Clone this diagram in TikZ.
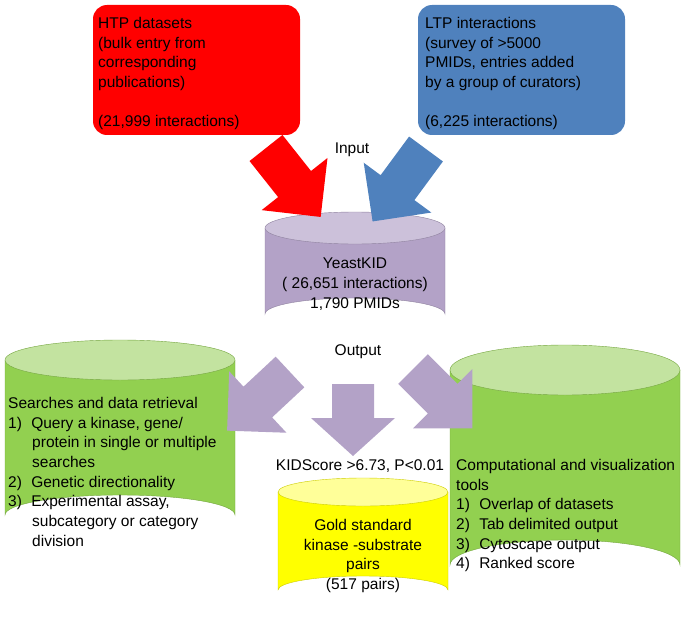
\documentclass[tikz,border=0pt]{standalone}
\usepackage{fontspec}
\setmainfont{Liberation Sans}
\definecolor{cred}{HTML}{FF0000}
\definecolor{cblue}{HTML}{4F81BD}
\definecolor{cpurp}{HTML}{B3A2C7}
\definecolor{cpurpt}{HTML}{CCC1DA}
\definecolor{cgreen}{HTML}{92D050}
\definecolor{cgreent}{HTML}{C3E3A0}
\definecolor{cyel}{HTML}{FFFF00}
\definecolor{cyelt}{HTML}{FFFF99}
\tikzset{
  txt/.style={font=\fontsize{15.5}{19.7}\selectfont, inner sep=0pt},
  box/.style={rounded corners=14pt},
  fat/.pic={\path[pic actions] (0,-#1) -- (\pgfkeysvalueof{/tikz/al}-\pgfkeysvalueof{/tikz/hl},-#1) -- (\pgfkeysvalueof{/tikz/al}-\pgfkeysvalueof{/tikz/hl},-2*#1) -- (\pgfkeysvalueof{/tikz/al},0) -- (\pgfkeysvalueof{/tikz/al}-\pgfkeysvalueof{/tikz/hl},2*#1) -- (\pgfkeysvalueof{/tikz/al}-\pgfkeysvalueof{/tikz/hl},#1) -- (0,#1) -- cycle;},
  al/.initial=90, hl/.initial=40
}
\newcommand{\cyl}[7]{% x1 x2 ytop ybot ry fill topfill
  \fill[#6] (#1,#3) -- (#1,#4) arc[start angle=180,end angle=360,x radius={(#2-#1)/2},y radius=#5] -- (#2,#3) -- cycle;
  \draw[#6!80!black,line width=0.4pt] (#1,#3) -- (#1,#4) arc[start angle=180,end angle=360,x radius={(#2-#1)/2},y radius=#5] -- (#2,#3);
  \filldraw[fill=#7,draw=#6!80!black,line width=0.4pt] ({(#1+#2)/2},#3) ellipse[x radius={(#2-#1)/2},y radius=#5];
}
\begin{document}
\begin{tikzpicture}[x=1pt,y=-1pt]
\useasboundingbox (0,0) rectangle (685,623);
% boxes
\fill[cred,box] (93,5) rectangle (300,135);
\fill[cblue,box] (418,5) rectangle (625,135);
\node[txt,anchor=north west,align=left] (htp) at (98,17) {HTP datasets\\(bulk entry from\\corresponding\\publications)\\[19.7pt](21,999 interactions)};
\node[txt,anchor=north west,align=left] (ltp) at (425,17) {LTP interactions\\(survey of >5000\\PMIDs, entries added\\by a group of curators)\\[19.7pt](6,225 interactions)};
\node[txt] (input) at (352,150) {Input};
% YeastKID
\cyl{265}{445}{228}{314}{16}{cpurp}{cpurpt}
\node[txt,align=center] (kid) at (355,284) {YeastKID\\( 26,651 interactions)\\1,790 PMIDs};
% input arrows
\pic[fill=cred,rotate=-51.6,al=88,hl=42] at (266,148) {fat=21};
\pic[fill=cblue,rotate=-126.4,al=90,hl=42] at (426,149) {fat=21};
\node[txt] (output) at (358,352) {Output};
% left cylinder
\cyl{5}{235}{360}{515}{20}{cgreen}{cgreent}
\node[txt,anchor=north west,align=left] (search) at (8,397) {Searches and data retrieval\\1)\hspace{0.6em}Query a kinase, gene/\\\hspace{1.55em}protein in single or multiple\\\hspace{1.55em}searches\\2)\hspace{0.6em}Genetic directionality\\3)\hspace{0.6em}Experimental assay,\\\hspace{1.55em}subcategory or category\\\hspace{1.55em}division};
% right cylinder
\cyl{450}{680}{370}{565}{25}{cgreen}{cgreent}
\node[txt,anchor=north west,align=left] (comp) at (456,459) {Computational and visualization\\tools\\1)\hspace{0.6em}Overlap of datasets\\2)\hspace{0.6em}Tab delimited output\\3)\hspace{0.6em}Cytoscape output\\4)\hspace{0.6em}Ranked score};
% output arrows
\pic[fill=cpurp,rotate=-137,al=86,hl=42] at (290,372) {fat=21};
\pic[fill=cpurp,rotate=-90,al=72,hl=38] at (353,384) {fat=21};
\pic[fill=cpurp,rotate=-45,al=84,hl=42] at (413,369) {fat=21};
% yellow cylinder
\node[txt] (kids) at (360,466) {KIDScore >6.73, P<0.01};
\cyl{278}{448}{492}{590}{14}{cyel}{cyelt}
\node[txt,align=center] (gold) at (363,556) {Gold standard\\kinase -substrate\\pairs\\(517 pairs)};
\end{tikzpicture}
\end{document}
